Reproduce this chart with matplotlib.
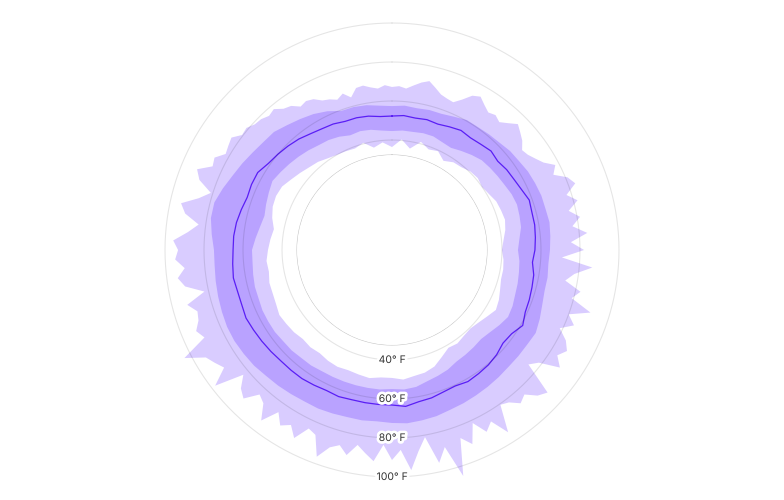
import numpy as np
import matplotlib
matplotlib.use("Agg")
import matplotlib.pyplot as plt
import matplotlib.patheffects as pe
from matplotlib.path import Path
from matplotlib.patches import PathPatch

# temperatures in deg F, read around the year, clockwise from the top
# avg / normal band / record low: one value every 5 degrees
avg_temp = [52.3, 52.8, 52.3, 52.8, 52.3, 53.3, 54.4, 53.8, 54.4, 55.4, 54.4, 55.4,
            55.9, 56.9, 58.5, 57.9, 57.9, 57.4, 56.9, 55.9, 57.4, 57.9, 58.5, 59.0,
            61.0, 58.5, 57.9, 59.5, 60.5, 61.0, 61.5, 60.5, 61.0, 62.1, 62.6, 64.1,
            63.1, 63.1, 63.1, 63.1, 63.6, 63.1, 63.6, 64.1, 64.1, 64.1, 64.6, 65.1,
            65.6, 66.2, 65.6, 65.6, 66.2, 65.6, 65.1, 65.1, 64.6, 63.6, 62.6, 63.1,
            63.1, 61.0, 60.0, 59.0, 57.9, 56.4, 55.4, 54.9, 53.8, 53.8, 53.3, 52.3]

avg_min = [44.6, 45.1, 45.1, 45.6, 45.6, 44.6, 44.1, 45.6, 47.2, 48.7, 49.2, 49.7,
           50.3, 51.3, 51.8, 51.3, 50.8, 49.2, 48.2, 49.2, 49.7, 50.3, 50.8, 51.8,
           52.3, 50.8, 49.2, 48.2, 48.7, 49.2, 49.7, 51.3, 52.3, 53.3, 54.9, 55.4,
           54.9, 55.4, 55.4, 55.4, 55.4, 55.4, 55.4, 55.9, 55.9, 56.4, 56.4, 56.9,
           56.9, 56.9, 56.4, 56.4, 55.9, 55.4, 55.4, 53.8, 52.3, 51.3, 52.3, 53.3,
           54.4, 53.3, 52.3, 51.3, 50.3, 49.2, 48.7, 47.7, 46.2, 46.7, 46.2, 45.1]

avg_max = [57.4, 57.9, 57.4, 57.9, 57.9, 59.0, 60.5, 60.5, 61.0, 61.5, 62.6, 63.1,
           64.1, 64.6, 65.1, 65.1, 65.6, 65.1, 64.6, 64.1, 64.6, 64.6, 65.6, 67.2,
           68.7, 68.2, 68.2, 68.2, 68.7, 69.2, 69.7, 70.3, 70.8, 71.8, 72.3, 72.8,
           72.3, 71.8, 72.3, 72.3, 72.8, 73.3, 73.3, 73.8, 74.4, 74.9, 75.9, 76.4,
           76.9, 76.9, 76.4, 75.9, 75.4, 74.9, 74.9, 76.4, 77.9, 77.9, 75.9, 73.8,
           72.3, 70.8, 69.7, 69.2, 67.2, 65.6, 64.1, 62.1, 59.5, 59.5, 59.0, 57.9]

rec_min = [36.4, 40.5, 36.4, 41.0, 38.5, 39.5, 36.4, 38.5, 39.0, 40.5, 41.0, 40.0,
           41.0, 42.6, 43.1, 43.6, 42.6, 41.0, 40.0, 41.0, 41.5, 41.5, 42.6, 44.1,
           45.1, 43.1, 41.5, 40.5, 41.0, 42.1, 41.5, 44.1, 47.2, 48.7, 49.2, 50.3,
           49.2, 49.2, 50.3, 49.7, 49.2, 49.7, 49.2, 48.2, 48.7, 48.2, 49.2, 49.7,
           50.3, 49.2, 48.7, 48.7, 47.7, 48.2, 47.2, 46.2, 45.1, 47.2, 48.7, 49.2,
           48.7, 46.7, 45.1, 43.6, 42.6, 41.0, 40.0, 39.5, 39.0, 40.5, 36.9, 39.0]

# record highs are spikier: one value every 2.5 degrees
rec_max = [67.2, 67.7, 66.7, 68.7, 70.8, 72.3, 69.7, 67.2, 66.2, 65.6, 68.7, 72.8,
           74.4, 71.8, 69.7, 70.8, 69.2, 71.8, 74.9, 72.8, 70.8, 67.7, 68.7, 70.8,
           73.3, 78.0, 74.9, 81.0, 83.6, 77.4, 82.1, 76.4, 81.5, 76.9, 84.1, 75.4,
           82.1, 70.8, 86.7, 77.9, 73.8, 82.6, 79.0, 90.3, 80.0, 84.6, 78.5, 84.1,
           87.2, 84.1, 88.7, 78.5, 74.9, 91.8, 89.2, 84.1, 86.2, 82.1, 80.5, 94.4,
           85.1, 88.7, 81.5, 91.3, 86.2, 105.1, 88.2, 95.4, 81.0, 87.7, 96.9, 86.2,
           91.3, 83.6, 92.3, 88.7, 85.1, 91.3, 87.2, 89.7, 96.4, 86.2, 84.6, 92.3,
           87.2, 90.3, 85.1, 93.8, 86.2, 84.1, 91.3, 88.7, 83.1, 97.9, 88.7, 91.3,
           93.8, 103.6, 89.7, 92.3, 89.2, 88.2, 92.3, 82.1, 91.3, 94.4, 90.3, 94.9,
           93.3, 95.9, 88.7, 83.6, 91.3, 94.4, 86.2, 81.0, 88.7, 91.8, 85.1, 86.2,
           82.1, 83.1, 84.1, 80.5, 81.0, 79.0, 78.5, 76.9, 77.9, 74.9, 73.8, 70.8,
           71.8, 70.8, 68.2, 67.2, 65.6, 67.7, 64.6, 68.7, 69.2, 67.7, 66.7, 68.2]

grid_temps = [40, 60, 80, 100]
grid_labels = ["40° F", "60° F", "80° F", "100° F"]

# radial scale: lowest temp sits on the inner circle
temp_low = 32.3
temp_origin = -16.4
temp_high = 111.8


def closed(values):
    th = np.linspace(0, 2 * np.pi, len(values), endpoint=False)
    return np.append(th, 2 * np.pi), np.append(values, values[0])


def ring(ax, outer_vals, inner_vals, color, z):
    th_o, r_o = closed(outer_vals)
    th_i, r_i = closed(inner_vals)
    outer = np.column_stack([th_o, r_o])
    inner = np.column_stack([th_i, r_i])[::-1]
    verts = np.vstack([outer, outer[:1], inner, inner[:1]])
    codes = ([Path.MOVETO] + [Path.LINETO] * (len(outer) - 1) + [Path.CLOSEPOLY]
             + [Path.MOVETO] + [Path.LINETO] * (len(inner) - 1) + [Path.CLOSEPOLY])
    ax.add_patch(PathPatch(Path(verts, codes), facecolor=color, edgecolor="none",
                           linewidth=0, zorder=z))


def main():
    fig = plt.figure(figsize=(7.84, 5.0), dpi=100)
    ax = fig.add_axes([142 / 784, 0, 500 / 784, 1], projection="polar")
    ax.set_theta_zero_location("N")
    ax.set_theta_direction(-1)

    ring(ax, rec_max, rec_min, "#d9ccff", 1)
    ring(ax, avg_max, avg_min, "#b9a2ff", 2)

    th, r = closed(avg_temp)
    ax.plot(th, r, color="#5a1ef5", lw=0.9, zorder=3)

    circ = np.linspace(0, 2 * np.pi, 361)
    ax.plot(circ, np.full_like(circ, temp_low), color="black", alpha=0.22, lw=0.8, zorder=4)
    for t, lab in zip(grid_temps, grid_labels):
        ax.plot(circ, np.full_like(circ, t), color="black", alpha=0.1, lw=0.8, zorder=4)
        ax.text(np.pi, t, lab, ha="center", va="center", fontsize=7.5, family="Inter",
                color="#333333", zorder=5,
                path_effects=[pe.withStroke(linewidth=4, foreground="white")])

    ax.set_rorigin(temp_origin)
    ax.set_rlim(temp_low, temp_high)
    ax.set_axis_off()

    fig.savefig("out.png", dpi=100, facecolor="white")


if __name__ == "__main__":
    main()
